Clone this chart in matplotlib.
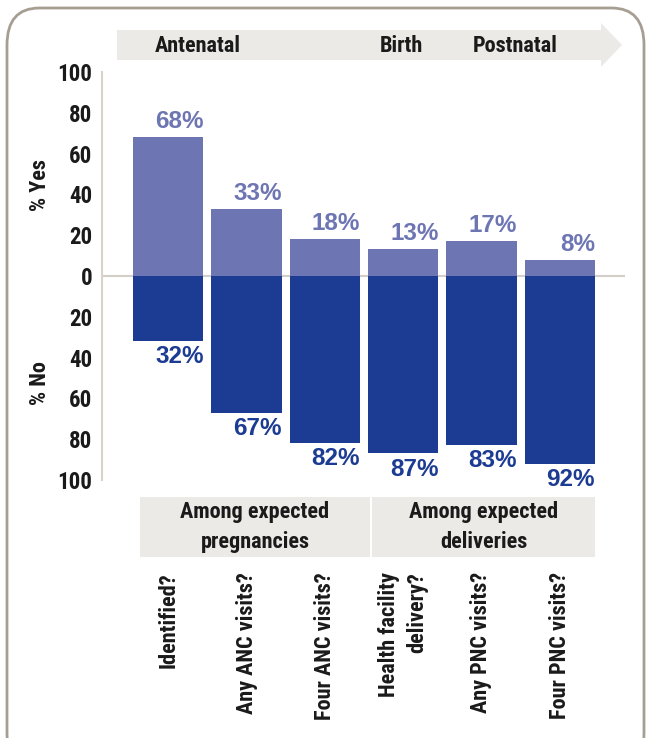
import matplotlib
matplotlib.use('Agg')
import numpy as np
import matplotlib.pyplot as plt
from matplotlib.patches import FancyBboxPatch, Rectangle, Polygon

# data
cats = ['Identified?', 'Any ANC visits?', 'Four ANC visits?',
        'Health facility\ndelivery?', 'Any PNC visits?', 'Four PNC visits?']
yes = [68, 33, 18, 13, 17, 8]
no = [32, 67, 82, 87, 83, 92]
yticks = [100, 80, 60, 40, 20, 0, -20, -40, -60, -80, -100]
stages = ['Antenatal', 'Birth', 'Postnatal']
groups = ['Among expected\npregnancies', 'Among expected\ndeliveries']

YES_C = '#6D76B3'
NO_C = '#1C3B92'
BAND = '#ECEAE6'
INK = '#1a1a1a'
NARROW = ['Roboto Condensed', 'PT Sans Narrow', 'DejaVu Sans']
WIDE = ['Liberation Sans', 'DejaVu Sans']
NB = dict(family=NARROW, fontweight='bold', color=INK)

W, H = 649, 738
fig = plt.figure(figsize=(W / 100, H / 100), dpi=100)


def fx(px):
    return px / W


def fy(py):
    return 1 - py / H


# rounded frame
frame = FancyBboxPatch((fx(7), fy(770)), fx(637), (770 - 8) / H,
                       boxstyle='round,pad=0,rounding_size=0.05',
                       transform=fig.transFigure, fill=False,
                       ec='#A79E93', lw=2, clip_on=False)
fig.patches.append(frame)

# arrow band on top
fig.patches.append(Rectangle((fx(117), fy(60)), fx(485), 30 / H,
                             transform=fig.transFigure, color=BAND, lw=0))
fig.patches.append(Polygon([(fx(601), fy(23)), (fx(622), fy(45)), (fx(601), fy(67))],
                           closed=True, transform=fig.transFigure, color=BAND, lw=0))
for s, px in zip(stages, [198, 401, 515]):
    fig.text(fx(px), fy(46), s, ha='center', va='center', fontsize=16, **NB)

ax = fig.add_axes([fx(102), fy(480), fx(625 - 102), (480 - 72) / H])
x = np.arange(len(cats))
wd = 0.9
ax.bar(x, yes, width=wd, color=YES_C, zorder=2)
ax.bar(x, [-v for v in no], width=wd, color=NO_C, zorder=2)
ax.axhline(0, color='#D3CEC8', lw=1.5, zorder=1)

for i in range(len(cats)):
    ax.text(x[i] + 0.45, yes[i] + 2, f'{yes[i]}%', ha='right', va='bottom',
            fontsize=17.5, fontweight='bold', family=WIDE, color=YES_C)
    ax.text(x[i] + 0.45, -no[i] - 2, f'{no[i]}%', ha='right', va='top',
            fontsize=17.5, fontweight='bold', family=WIDE, color=NO_C)

ax.set_xlim(-0.846, 5.833)
ax.set_ylim(-100, 100)
ax.set_yticks(yticks)
ax.set_yticklabels([str(abs(t)) for t in yticks])
for lab in ax.get_yticklabels():
    lab.set(fontsize=16.5, **NB)
ax.tick_params(axis='y', length=0, pad=7)
ax.set_xticks([])
for sp in ['top', 'right', 'bottom']:
    ax.spines[sp].set_visible(False)
ax.spines['left'].set_color('#D8D3CD')
ax.spines['left'].set_linewidth(1.5)

fig.text(fx(40), fy(185), '% Yes', rotation=90, ha='center', va='center',
         fontsize=16, **NB)
fig.text(fx(40), fy(383), '% No', rotation=90, ha='center', va='center',
         fontsize=16, **NB)

# group boxes
for (l, r), g in zip([(140, 370), (372, 595)], groups):
    fig.patches.append(Rectangle((fx(l), fy(557)), fx(r - l), 60 / H,
                                 transform=fig.transFigure, color=BAND, lw=0))
    fig.text(fx((l + r) / 2), fy(527), g, ha='center', va='center',
             fontsize=16, linespacing=1.45, **NB)

# category labels
for i, c in enumerate(cats):
    ax.text(x[i], -0.225, c, rotation=90, ha='center', va='top',
            transform=ax.get_xaxis_transform(), fontsize=16,
            multialignment='right', linespacing=1.35, clip_on=False, **NB)

fig.savefig('out.png', dpi=100)
